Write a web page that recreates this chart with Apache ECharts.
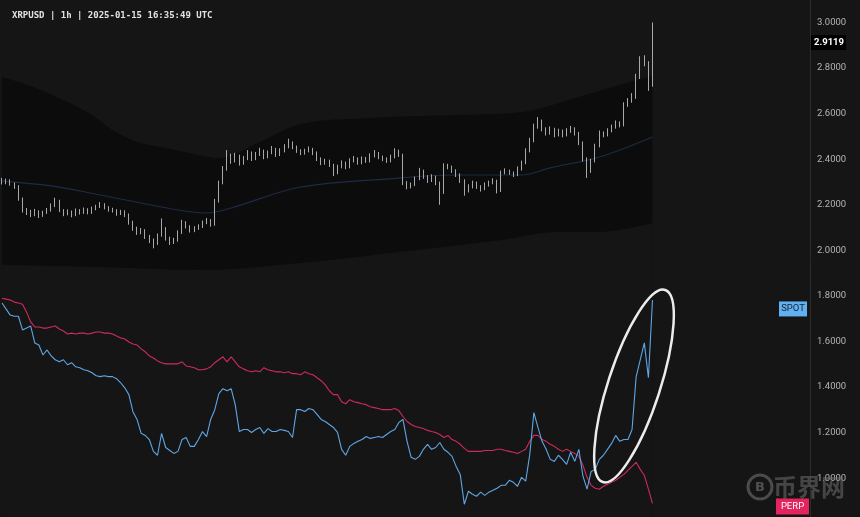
<!DOCTYPE html>
<html><head><meta charset="utf-8">
<script src="https://cdn.jsdelivr.net/npm/echarts/dist/echarts.min.js"></script>
<style>html,body{margin:0;padding:0;background:#151515;}#c{width:860px;height:517px;}</style>
</head><body><div id="c"></div>
<script>
const titleText = 'XRPUSD | 1h | 2025-01-15 16:35:49 UTC';
const lastPrice = 2.9119;
const spotTagValue = 1.743;
const perpTagValue = 0.876;
const yTicks = [1.0, 1.2, 1.4, 1.6, 1.8, 2.0, 2.2, 2.4, 2.6, 2.8, 3.0];

const opens = [2.310,2.297,2.306,2.293,2.280,2.227,2.175,2.166,2.157,2.170,
 2.153,2.166,2.175,2.197,2.218,2.175,2.162,2.170,2.157,2.175,
 2.166,2.179,2.166,2.183,2.192,2.201,2.188,2.179,2.175,2.162,
 2.170,2.157,2.122,2.096,2.079,2.087,2.061,2.044,2.031,2.066,
 2.096,2.052,2.035,2.044,2.079,2.122,2.105,2.087,2.096,2.105,
 2.122,2.131,2.113,2.218,2.297,2.358,2.415,2.393,2.415,2.384,
 2.402,2.428,2.402,2.420,2.437,2.410,2.428,2.445,2.420,2.437,
 2.454,2.472,2.454,2.437,2.428,2.437,2.445,2.428,2.402,2.384,
 2.393,2.376,2.341,2.367,2.384,2.367,2.393,2.402,2.384,2.402,
 2.393,2.415,2.428,2.410,2.402,2.393,2.410,2.437,2.420,2.297,
 2.280,2.288,2.314,2.349,2.323,2.306,2.323,2.297,2.253,2.371,
 2.367,2.349,2.332,2.306,2.262,2.280,2.297,2.280,2.271,2.288,
 2.297,2.306,2.262,2.341,2.349,2.341,2.332,2.358,2.384,2.437,
 2.480,2.541,2.568,2.533,2.515,2.533,2.507,2.524,2.507,2.524,
 2.533,2.515,2.472,2.402,2.349,2.393,2.459,2.515,2.507,2.524,
 2.541,2.559,2.550,2.638,2.655,2.672,2.760,2.838,2.821,2.725];
const closes = [2.297,2.306,2.293,2.280,2.227,2.175,2.166,2.157,2.170,2.153,
 2.166,2.175,2.197,2.218,2.175,2.162,2.170,2.157,2.175,2.166,
 2.179,2.166,2.183,2.192,2.201,2.188,2.179,2.175,2.162,2.170,
 2.157,2.122,2.096,2.079,2.087,2.061,2.044,2.031,2.066,2.096,
 2.052,2.035,2.044,2.079,2.122,2.105,2.087,2.096,2.105,2.122,
 2.131,2.113,2.218,2.297,2.358,2.415,2.393,2.415,2.384,2.402,
 2.428,2.402,2.420,2.437,2.410,2.428,2.445,2.420,2.437,2.454,
 2.472,2.454,2.437,2.428,2.437,2.445,2.428,2.402,2.384,2.393,
 2.376,2.341,2.367,2.384,2.367,2.393,2.402,2.384,2.402,2.393,
 2.415,2.428,2.410,2.402,2.393,2.410,2.437,2.420,2.297,2.280,
 2.288,2.314,2.349,2.323,2.306,2.323,2.297,2.253,2.371,2.367,
 2.349,2.332,2.306,2.262,2.280,2.297,2.280,2.271,2.288,2.297,
 2.306,2.262,2.341,2.349,2.341,2.332,2.358,2.384,2.437,2.480,
 2.541,2.568,2.533,2.515,2.533,2.507,2.524,2.507,2.524,2.533,
 2.515,2.472,2.402,2.349,2.393,2.459,2.515,2.507,2.524,2.541,
 2.559,2.550,2.638,2.655,2.672,2.760,2.838,2.821,2.725,2.912];
const highs = [2.318,2.315,2.312,2.298,2.286,2.232,2.186,2.178,2.182,2.176,
 2.174,2.186,2.206,2.231,2.222,2.181,2.180,2.175,2.184,2.181,
 2.188,2.185,2.192,2.200,2.212,2.207,2.194,2.187,2.181,2.178,
 2.176,2.162,2.130,2.104,2.098,2.093,2.068,2.052,2.074,2.140,
 2.102,2.060,2.055,2.088,2.134,2.128,2.110,2.106,2.114,2.131,
 2.142,2.137,2.226,2.306,2.370,2.440,2.424,2.428,2.420,2.414,
 2.440,2.434,2.432,2.450,2.442,2.438,2.458,2.450,2.448,2.466,
 2.490,2.478,2.460,2.444,2.446,2.456,2.450,2.434,2.408,2.402,
 2.398,2.380,2.376,2.395,2.390,2.404,2.414,2.408,2.412,2.410,
 2.426,2.440,2.432,2.416,2.408,2.420,2.448,2.442,2.424,2.304,
 2.298,2.324,2.362,2.354,2.330,2.334,2.328,2.302,2.382,2.380,
 2.372,2.356,2.338,2.312,2.290,2.306,2.302,2.286,2.298,2.306,
 2.316,2.310,2.350,2.360,2.354,2.346,2.368,2.394,2.448,2.494,
 2.556,2.585,2.574,2.540,2.544,2.538,2.534,2.530,2.536,2.546,
 2.540,2.520,2.478,2.408,2.402,2.468,2.526,2.522,2.536,2.552,
 2.570,2.566,2.650,2.668,2.690,2.775,2.852,2.856,2.830,3.000];
const lows = [2.289,2.290,2.284,2.270,2.218,2.166,2.155,2.146,2.150,2.142,
 2.147,2.160,2.170,2.190,2.168,2.150,2.154,2.145,2.150,2.157,
 2.160,2.158,2.160,2.176,2.186,2.180,2.170,2.166,2.152,2.155,
 2.146,2.113,2.086,2.068,2.071,2.050,2.032,2.009,2.024,2.060,
 2.043,2.024,2.028,2.038,2.072,2.096,2.078,2.080,2.090,2.098,
 2.115,2.104,2.108,2.210,2.290,2.350,2.380,2.386,2.372,2.376,
 2.396,2.392,2.396,2.414,2.400,2.404,2.422,2.410,2.414,2.430,
 2.448,2.444,2.428,2.418,2.420,2.430,2.418,2.392,2.374,2.376,
 2.366,2.326,2.334,2.360,2.356,2.360,2.386,2.376,2.378,2.384,
 2.386,2.408,2.400,2.392,2.384,2.386,2.404,2.410,2.286,2.268,
 2.272,2.282,2.308,2.314,2.296,2.300,2.286,2.200,2.248,2.356,
 2.340,2.322,2.296,2.240,2.254,2.272,2.270,2.258,2.264,2.280,
 2.290,2.250,2.256,2.334,2.332,2.322,2.326,2.350,2.378,2.430,
 2.474,2.534,2.522,2.504,2.508,2.496,2.500,2.496,2.500,2.516,
 2.504,2.462,2.390,2.318,2.340,2.386,2.452,2.496,2.500,2.518,
 2.534,2.540,2.544,2.630,2.648,2.665,2.752,2.808,2.700,2.718];

const spot = [1.769,1.742,1.716,1.711,1.711,1.651,1.659,1.668,1.594,1.585,
 1.541,1.563,1.537,1.520,1.511,1.520,1.498,1.507,1.489,1.485,
 1.476,1.472,1.463,1.450,1.446,1.450,1.446,1.446,1.437,1.419,
 1.397,1.367,1.292,1.258,1.197,1.188,1.170,1.118,1.101,1.197,
 1.135,1.122,1.109,1.118,1.170,1.179,1.140,1.140,1.170,1.205,
 1.183,1.258,1.301,1.371,1.393,1.384,1.393,1.323,1.205,1.214,
 1.214,1.201,1.214,1.223,1.197,1.218,1.205,1.205,1.214,1.210,
 1.205,1.179,1.301,1.301,1.293,1.306,1.301,1.280,1.258,1.249,
 1.236,1.223,1.201,1.127,1.101,1.140,1.153,1.162,1.170,1.183,
 1.175,1.179,1.183,1.179,1.192,1.205,1.214,1.245,1.258,1.162,
 1.092,1.083,1.096,1.127,1.149,1.127,1.135,1.157,1.127,1.114,
 1.096,1.052,1.017,0.886,0.943,0.930,0.921,0.939,0.925,0.939,
 0.947,0.956,0.969,0.969,0.991,0.982,0.965,1.004,0.987,1.105,
 1.288,1.223,1.162,1.127,1.083,1.074,1.101,1.083,1.061,1.114,
 1.074,1.127,1.009,0.952,1.030,1.039,1.083,1.101,1.127,1.153,
 1.188,1.162,1.170,1.170,1.214,1.445,1.520,1.594,1.441,1.782];
const perp = [1.790,1.786,1.782,1.773,1.769,1.764,1.729,1.686,1.664,1.664,
 1.659,1.659,1.664,1.668,1.655,1.646,1.633,1.637,1.633,1.637,
 1.637,1.633,1.637,1.642,1.642,1.637,1.637,1.633,1.624,1.616,
 1.611,1.598,1.589,1.585,1.568,1.555,1.537,1.528,1.515,1.507,
 1.502,1.502,1.502,1.502,1.511,1.493,1.489,1.485,1.476,1.476,
 1.480,1.489,1.507,1.520,1.533,1.511,1.533,1.511,1.489,1.480,
 1.472,1.467,1.472,1.467,1.485,1.476,1.472,1.467,1.467,1.463,
 1.467,1.459,1.459,1.454,1.467,1.459,1.454,1.441,1.428,1.410,
 1.384,1.367,1.367,1.336,1.327,1.345,1.336,1.332,1.327,1.323,
 1.314,1.310,1.306,1.301,1.301,1.301,1.306,1.297,1.271,1.249,
 1.236,1.227,1.223,1.218,1.210,1.205,1.201,1.192,1.179,1.188,
 1.170,1.162,1.149,1.131,1.118,1.118,1.118,1.118,1.122,1.122,
 1.122,1.127,1.127,1.122,1.118,1.114,1.109,1.118,1.127,1.162,
 1.188,1.188,1.170,1.162,1.149,1.140,1.127,1.118,1.127,1.118,
 1.109,1.096,1.057,1.004,0.969,0.956,0.952,0.965,0.974,0.982,
 0.991,1.004,1.017,1.035,1.052,1.070,1.039,1.013,0.952,0.890];

// envelope band and moving average (sparse samples at candle indices)
const bandUpIdx = [0,7,16,22,27,33,40,48,53,63,73,90,110,127,141,151,159];
const bandUp    = [2.761,2.721,2.651,2.594,2.528,2.476,2.449,2.419,2.405,2.476,2.555,2.581,2.594,2.607,2.673,2.726,2.765];
const bandLoIdx = [0,24,48,73,97,122,136,146,159];
const bandLo    = [1.936,1.927,1.914,1.945,1.993,2.046,2.081,2.081,2.120];
const maIdx = [0,12,24,43,50,56,73,97,110,127,134,146,159];
const maVal = [2.304,2.283,2.243,2.177,2.164,2.186,2.278,2.317,2.331,2.331,2.362,2.410,2.498];

const yMin = 0.830, yMax = 3.0987;
const totalSlots = 198;
const categories = [];
const t0 = Date.UTC(2025, 0, 9, 1);
for (let i = 0; i < totalSlots; i++) {
  const d = new Date(t0 + i * 3600000);
  categories.push(d.toISOString().slice(0, 13).replace('T', ' ') + ':00');
}

const BG = '#151515', BAND = '#0c0c0c';
const chart = echarts.init(document.getElementById('c'), null, {renderer: 'canvas'});
const candleData = opens.map((o, i) => [o, closes[i], lows[i], highs[i]]);
const pair = (idx, vals) => idx.map((x, k) => [x, vals[k]]);

chart.setOption({
  backgroundColor: BG,
  animation: false,
  grid: {left: 0, right: 50, top: 0, bottom: 0},
  xAxis: {type: 'category', data: categories, boundaryGap: true, show: false},
  yAxis: {
    type: 'value', position: 'right', min: yMin, max: yMax,
    axisLine: {show: true, lineStyle: {color: '#2c2c2c', width: 1}},
    axisTick: {show: false}, splitLine: {show: false},
    axisLabel: {color: '#b4b4b4', fontSize: 9.5, fontFamily: 'Roboto', margin: 7,
      customValues: yTicks, formatter: v => v.toFixed(4)}
  },
  series: [
    {type: 'line', name: 'upper', data: pair(bandUpIdx, bandUp), smooth: 0.35, symbol: 'none',
     lineStyle: {width: 0, opacity: 0}, areaStyle: {color: BAND, opacity: 1, origin: 'start'}, z: 1, silent: true},
    {type: 'line', name: 'lower', data: pair(bandLoIdx, bandLo), smooth: 0.35, symbol: 'none',
     lineStyle: {width: 0, opacity: 0}, areaStyle: {color: BG, opacity: 1, origin: 'start'}, z: 1, silent: true},
    {type: 'line', name: 'MA', data: pair(maIdx, maVal), smooth: 0.35, symbol: 'none',
     lineStyle: {width: 1.1, color: '#1d2b45'}, z: 2, silent: true},
    {type: 'candlestick', name: 'XRPUSD', data: candleData, barWidth: 1.2, z: 3,
     itemStyle: {color: '#a8a8a8', color0: '#a8a8a8', borderColor: '#a8a8a8', borderColor0: '#a8a8a8', borderWidth: 1}},
    {type: 'line', name: 'PERP', data: perp, symbol: 'none', lineStyle: {width: 1.1, color: '#cf2a5c'}, z: 4},
    {type: 'line', name: 'SPOT', data: spot, symbol: 'none', lineStyle: {width: 1.1, color: '#5ea6e6'}, z: 5}
  ]
});

const yOf = v => chart.convertToPixel({yAxisIndex: 0}, v);
const py = yOf(lastPrice), sy = yOf(spotTagValue), pp = yOf(perpTagValue);
const txt = (text, x, y, fill, font, align) => ({type: 'text', z: 100,
  style: {text, x, y, fill, font, textAlign: align || 'left', textVerticalAlign: 'middle', align: align || 'left', verticalAlign: 'middle'}});

chart.setOption({graphic: [
  txt(titleText, 12, 16, '#e2e2e2', 'bold 9px "DejaVu Sans Mono"'),
  {type: 'rect', z: 99, shape: {x: 811, y: py - 7.5, width: 35, height: 15}, style: {fill: '#000'}},
  txt(lastPrice.toFixed(4), 814, py, '#ffffff', 'bold 9.5px Roboto'),
  {type: 'rect', z: 99, shape: {x: 779, y: sy - 7.5, width: 28, height: 15}, style: {fill: '#62b0f0'}},
  txt('SPOT', 793, sy, '#10233a', '9.5px Roboto', 'center'),
  {type: 'rect', z: 99, shape: {x: 776, y: pp - 8, width: 33, height: 16}, style: {fill: '#e3245f'}},
  txt('PERP', 792.5, pp, '#ffffff', '9.5px Roboto', 'center'),
  {type: 'ellipse', z: 98, x: 634, y: 386, rotation: -18 * Math.PI / 180,
   shape: {cx: 0, cy: 0, rx: 26, ry: 101}, style: {fill: 'none', stroke: '#ececec', lineWidth: 2.5}},
  {type: 'circle', z: 97, shape: {cx: 760, cy: 487, r: 12}, style: {fill: 'none', stroke: 'rgba(120,120,120,0.55)', lineWidth: 3}},
  txt('B', 760, 487.5, 'rgba(120,120,120,0.6)', 'bold 13px "DejaVu Sans"', 'center'),
  txt('币界网', 773, 487, 'rgba(110,110,110,0.55)', 'bold 24px "Noto Sans CJK SC"')
]});
</script>
</body></html>
